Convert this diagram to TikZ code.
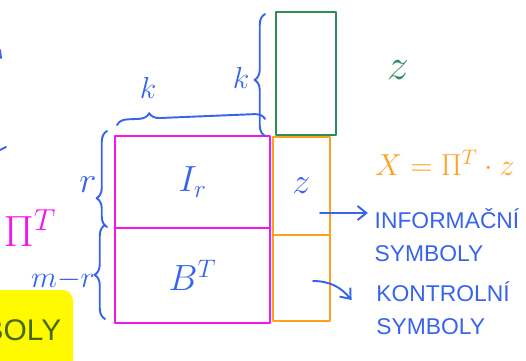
\documentclass[tikz,border=0pt]{standalone}
\usepackage{fontspec}
\setmainfont{Liberation Sans}
\usepackage{amsmath}
\usetikzlibrary{arrows.meta, positioning, calc, decorations.pathreplacing}
\definecolor{penblue}{RGB}{55,100,235}
\definecolor{penpink}{RGB}{245,20,235}
\definecolor{penorange}{RGB}{255,160,30}
\definecolor{pengreen}{RGB}{45,140,90}
\definecolor{penyellow}{RGB}{255,250,0}
\definecolor{penolive}{RGB}{70,105,10}

\begin{document}
\begin{tikzpicture}[x=0.02cm, y=-0.02cm, line width=1.1pt, line cap=round, line join=round,
  cell/.style={draw, inner sep=0pt, font=\fontsize{22}{24}\selectfont},
  brc/.style={penblue, decorate, decoration={brace, amplitude=6pt}},
  txt/.style={penblue, align=left, font=\fontsize{13}{19}\selectfont},
  tip/.style={penblue, -{Straight Barb[length=5pt,width=8pt]}}]
  \useasboundingbox (0,0) rectangle (526,360);
  % highlighted word, cut by the left edge
  \fill[penyellow, rounded corners=6pt] (-20,290) rectangle (73,370);
  \node[penolive, anchor=east, font=\fontsize{17}{19}\selectfont] (hl) at (68,330) {SYMBOLY};
  \draw[penblue] (0,50) -- (1,58);
  \draw[penblue] (0,150) -- (6,147);
  % the matrices
  \node[cell, draw=penpink, text=penblue, minimum width=3.1cm, minimum height=1.84cm] (ir) at (192.5,182) {$I_r$};
  \node[cell, draw=penpink, text=penblue, minimum width=3.1cm, minimum height=1.9cm] (bt) at (192.5,275.5) {$B^T$};
  \node[cell, draw=penorange, text=penblue, minimum width=1.14cm, minimum height=1.96cm] (zi) at (301.5,186) {$z$};
  \node[cell, draw=penorange, minimum width=1.14cm, minimum height=1.72cm] (zc) at (301.5,278) {};
  \node[cell, draw=pengreen, minimum width=1.2cm, minimum height=2.46cm] (zz) at (306,73.5) {};
  % braces
  \draw[brc, decoration={aspect=0.22}] ($(ir.north west)+(3,-10)$) -- ($(zz.south west)+(-10,-17)$);
  \draw[brc, decoration={aspect=0.46}] ($(zz.south west)+(-10,0)$) -- ($(zz.north west)+(-10,3)$);
  \draw[brc, decoration={aspect=0.3}] ($(ir.south west)+(-7,-2)$) -- ($(ir.north west)+(-7,-4)$);
  \draw[brc, decoration={aspect=0.47}] ($(bt.south west)+(-9,-5)$) -- ($(bt.north west)+(-9,-2)$);
  % labels
  \node[penblue, font=\fontsize{18}{20}\selectfont] (k1) at (148,88) {$k$};
  \node[penblue, font=\fontsize{18}{20}\selectfont] (k2) at (241,78) {$k$};
  \node[penblue, font=\fontsize{22}{24}\selectfont] (r) at (88,185) {$r$};
  \node[penblue, font=\fontsize{16}{18}\selectfont] (mr) at (63,280) {$m{-}r$};
  \node[penpink, font=\fontsize{26}{28}\selectfont] (pit) at (30,228) {$\Pi^T$};
  \node[pengreen, font=\fontsize{28}{30}\selectfont] (zlab) at (398,70) {$z$};
  \node[penorange, font=\fontsize{18}{20}\selectfont] (xeq) at (445,163) {$X = \Pi^T \cdot z$};
  % the two parts of X
  \node[txt] (info) at (447,235) {INFORMAČNÍ\\SYMBOLY};
  \node[txt] (kon) at (443,308) {KONTROLNÍ\\SYMBOLY};
  \coordinate (a1) at (320,213);
  \coordinate (a2) at (313,281);
  \draw[tip] (a1) -- (a1 -| info.west);
  \draw[tip] (a2) to[out=0, in=130] ($(kon.west)+(-18,-8)$);
\end{tikzpicture}
\end{document}
